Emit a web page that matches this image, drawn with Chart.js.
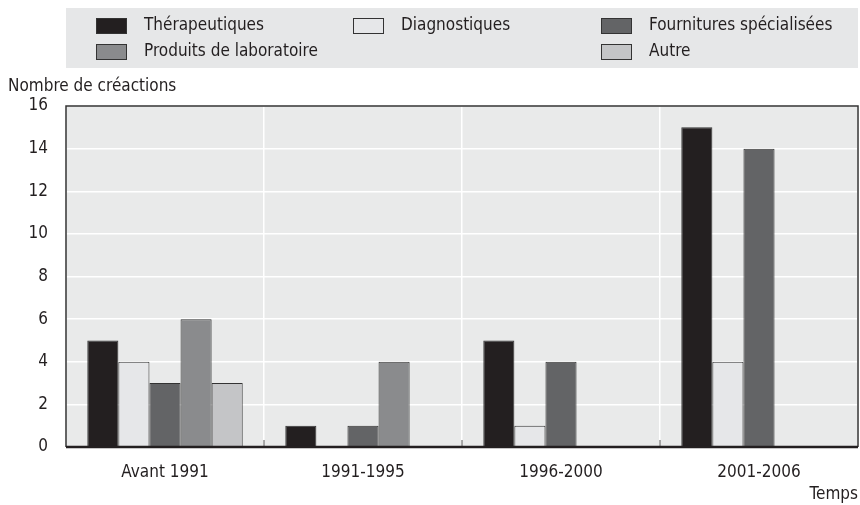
<!DOCTYPE html>
<html lang="fr">
<head>
<meta charset="UTF-8">
<title>Nombre de créactions</title>
<script src="https://cdn.jsdelivr.net/npm/chart.js"></script>
<style>
  html, body { margin: 0; padding: 0; background: #fff; }
  #wrap { width: 860px; height: 505px; position: relative; }
</style>
</head>
<body>
<div id="wrap"><canvas id="chart"></canvas></div>
<script>
// data
const periods = ['Avant 1991', '1991-1995', '1996-2000', '2001-2006'];
const therapeutiques = [5, 1, 5, 15];
const diagnostiques = [4, 0, 1, 4];
const fournitures = [3, 1, 4, 14];
const produitsLabo = [6, 4, 0, 0];
const autre = [3, 0, 0, 0];
const yTicks = [0, 2, 4, 6, 8, 10, 12, 14, 16];

const FONT = "'DejaVu Sans Condensed', 'Liberation Sans', sans-serif";
const EDGE = '#333333';

// grid slot for each legend entry: [column, row]
const legendSlots = [[0, 0], [1, 0], [2, 0], [0, 1], [2, 1]];

const frame = {
  id: 'frame',
  beforeDraw(chart) {
    const { ctx, chartArea: a } = chart;
    ctx.save();
    ctx.fillStyle = '#e9eaea';
    ctx.fillRect(a.left, a.top, a.right - a.left, a.bottom - a.top);
    ctx.restore();
  },
  afterDraw(chart) {
    const { ctx, chartArea: a } = chart;
    ctx.save();
    ctx.strokeStyle = EDGE;
    ctx.lineWidth = 1.5;
    ctx.beginPath();
    ctx.moveTo(a.left, a.bottom);
    ctx.lineTo(a.left, a.top);
    ctx.lineTo(a.right, a.top);
    ctx.lineTo(a.right, a.bottom);
    ctx.stroke();
    // small ticks between categories
    const x = chart.scales.x;
    ctx.lineWidth = 1;
    ctx.strokeStyle = '#555';
    for (let i = 1; i < periods.length; i++) {
      const px = (x.getPixelForTick(i - 1) + x.getPixelForTick(i)) / 2;
      ctx.beginPath();
      ctx.moveTo(px, a.bottom);
      ctx.lineTo(px, a.bottom - 7);
      ctx.stroke();
    }
    ctx.lineWidth = 2.5;
    ctx.strokeStyle = '#231f20';
    ctx.beginPath();
    ctx.moveTo(a.left, a.bottom);
    ctx.lineTo(a.right, a.bottom);
    ctx.stroke();

    // axis titles
    ctx.fillStyle = '#231f20';
    ctx.font = '17px ' + FONT;
    ctx.textBaseline = 'middle';
    ctx.textAlign = 'left';
    ctx.fillText('Nombre de créactions', 8, 87);
    ctx.textAlign = 'right';
    ctx.fillText('Temps', 858, 495);

    // legend
    ctx.fillStyle = '#e6e7e8';
    ctx.fillRect(66, 8, 792, 60);
    const colX = [96, 353, 601];
    const rowY = [26, 52];
    chart.data.datasets.forEach((ds, i) => {
      const [c, r] = legendSlots[i];
      const x0 = colX[c], y0 = rowY[r];
      ctx.fillStyle = ds.backgroundColor;
      ctx.fillRect(x0, y0 - 8, 31, 16);
      ctx.lineWidth = 1;
      ctx.strokeStyle = EDGE;
      ctx.strokeRect(x0 + 0.5, y0 - 7.5, 30, 15);
      ctx.fillStyle = '#231f20';
      ctx.textAlign = 'left';
      ctx.fillText(ds.label, x0 + 48, y0);
    });
    ctx.restore();
  }
};

function series(label, data, color) {
  return {
    label, data,
    backgroundColor: color,
    borderColor: EDGE,
    borderWidth: 1,
    barPercentage: 1,
    categoryPercentage: 0.785
  };
}

new Chart(document.getElementById('chart'), {
  type: 'bar',
  data: {
    labels: periods,
    datasets: [
      series('Thérapeutiques', therapeutiques, '#231f20'),
      series('Diagnostiques', diagnostiques, '#e6e7e9'),
      series('Fournitures spécialisées', fournitures, '#636466'),
      series('Produits de laboratoire', produitsLabo, '#8a8b8d'),
      series('Autre', autre, '#c4c5c7')
    ]
  },
  options: {
    responsive: true,
    maintainAspectRatio: false,
    animation: false,
    layout: { padding: { top: 106, right: 2, left: 0, bottom: 0 } },
    plugins: { legend: { display: false }, tooltip: { enabled: false } },
    scales: {
      x: {
        grid: { color: '#ffffff', lineWidth: 1.5, offset: true, drawTicks: false },
        border: { display: false },
        ticks: { color: '#231f20', font: { family: FONT, size: 17 }, padding: 15 },
        afterFit(s) { s.height = 58; }
      },
      y: {
        min: 0, max: 16,
        afterBuildTicks(s) { s.ticks = yTicks.map(v => ({ value: v })); },
        grid: { color: '#ffffff', lineWidth: 1.5, drawTicks: false },
        border: { display: false },
        ticks: { color: '#231f20', font: { family: FONT, size: 17 }, padding: 18 },
        afterFit(s) { s.width = 66; }
      }
    }
  },
  plugins: [frame]
});
</script>
</body>
</html>
